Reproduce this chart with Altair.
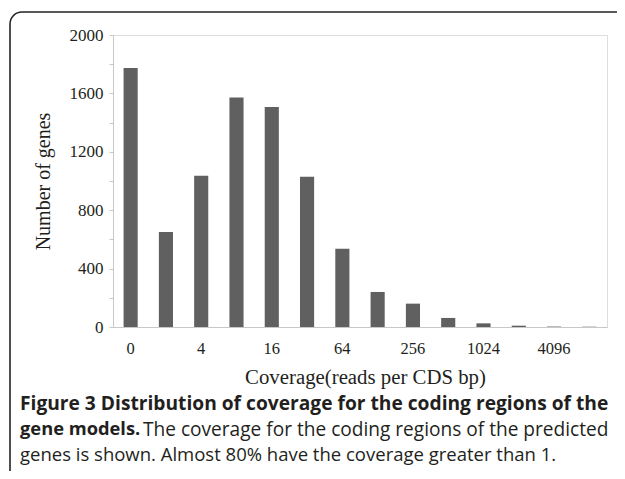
import altair as alt
import pandas as pd

categories = ["0", "2", "4", "8", "16", "32", "64", "128", "256", "512", "1024", "2048", "4096", "8192"]
counts = [1774, 650, 1036, 1572, 1507, 1029, 536, 240, 160, 62, 25, 9, 3, 2]
x_tick_labels = ["0", "4", "16", "64", "256", "1024", "4096"]
y_ticks = [0, 200, 400, 600, 800, 1000, 1200, 1400, 1600, 1800, 2000]

caption_bold_1 = "Figure 3 Distribution of coverage for the coding regions of the"
caption_bold_2 = "gene models."
caption_norm_2 = "The coverage for the coding regions of the predicted"
caption_norm_3 = "genes is shown. Almost 80% have the coverage greater than 1."

df = pd.DataFrame({"cat": categories, "n": counts})

SERIF = "Liberation Serif"
SANS = "Open Sans"
TXT = "#231f20"
FRAME = "#222222"

bars = alt.Chart(df).mark_bar(color="#606060").encode(
    x=alt.X(
        "cat:N",
        sort=categories,
        scale=alt.Scale(paddingInner=0.6, paddingOuter=0.3),
        axis=alt.Axis(
            values=x_tick_labels,
            labelAngle=0,
            ticks=False,
            domainColor="#c8c8c8",
            domainWidth=1,
            labelFont=SERIF,
            labelFontSize=16.5,
            labelColor=TXT,
            labelPadding=13,
            title="Coverage(reads per CDS bp)",
            titleFont=SERIF,
            titleFontSize=20.8,
            titleFontWeight="normal",
            titleColor=TXT,
            titleX=252,
            titleY=50,
            titleBaseline="middle",
        ),
    ),
    y=alt.Y(
        "n:Q",
        scale=alt.Scale(domain=[0, 2000], nice=False),
        axis=alt.Axis(
            values=y_ticks,
            labelExpr="datum.value % 400 == 0 ? datum.label : ''",
            format="d",
            grid=False,
            tickColor="#c8c8c8",
            tickSize=4,
            domainColor="#c8c8c8",
            labelFont=SERIF,
            labelFontSize=17,
            labelColor=TXT,
            labelPadding=6,
            title="Number of genes",
            titleFont=SERIF,
            titleFontSize=20,
            titleFontWeight="normal",
            titleColor=TXT,
            titleX=-70,
            titleY=146,
            titleBaseline="middle",
            titleAngle=-90,
        ),
    ),
)

one = alt.Chart(pd.DataFrame({"k": [0]}))

top_line = one.mark_rule(stroke=FRAME, strokeWidth=1.6).encode(
    x=alt.value(-91), x2=alt.value(504), y=alt.value(-23)
)
left_line = one.mark_rule(stroke=FRAME, strokeWidth=1.6).encode(
    x=alt.value(-103), y=alt.value(-11), y2=alt.value(436)
)
corner = one.mark_arc(
    filled=False, stroke=FRAME, strokeWidth=1.6,
    radius=12, radius2=12, theta=4.7124, theta2=6.2832
).encode(x=alt.value(-91), y=alt.value(-11))

cap1 = one.mark_text(
    text=caption_bold_1, font=SANS, fontSize=19.2, fontWeight="bold",
    align="left", baseline="middle", color=TXT
).encode(x=alt.value(-93), y=alt.value(369))

cap2b = one.mark_text(
    text=caption_bold_2, font=SANS, fontSize=18.3, fontWeight="bold",
    align="left", baseline="middle", color=TXT
).encode(x=alt.value(-93), y=alt.value(395))

cap2n = one.mark_text(
    text=caption_norm_2, font=SANS, fontSize=19.1,
    align="left", baseline="middle", color=TXT
).encode(x=alt.value(30), y=alt.value(395))

cap3 = one.mark_text(
    text=caption_norm_3, font=SANS, fontSize=18.5,
    align="left", baseline="middle", color=TXT
).encode(x=alt.value(-93), y=alt.value(420))

chart = alt.layer(top_line, left_line, corner, bars, cap1, cap2b, cap2n, cap3).properties(
    width=494,
    height=292,
    autosize=alt.AutoSizeParams(type="none"),
    padding={"left": 105, "top": 27, "right": 10, "bottom": 144},
).configure_view(stroke=None).configure(background="white")

chart.save("out.html", embed_options={"renderer": "svg", "actions": False})
